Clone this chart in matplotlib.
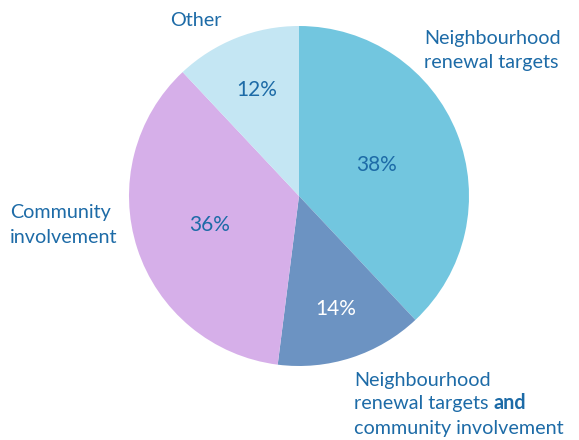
import matplotlib
matplotlib.use("Agg")
import matplotlib.pyplot as plt
import numpy as np

categories = ["Neighbourhood renewal targets", "Neighbourhood renewal targets and community involvement",
              "Community involvement", "Other"]
values = [38, 14, 36, 12]
pct_labels = ["38%", "14%", "36%", "12%"]
colors = ["#72C6DF", "#6C93C2", "#D6AFE9", "#C4E6F3"]
pct_colors = ["#1D6BA7", "#FFFFFF", "#1D6BA7", "#1D6BA7"]
pct_rad = [0.49, 0.70, 0.55, 0.67]
text_color = "#1D6BA7"

plt.rcParams['font.family'] = ['Lato', 'DejaVu Sans']

W, H = 579, 440
fig = plt.figure(figsize=(W / 100, H / 100), dpi=100)
ax = fig.add_axes([0, 0, 1, 1])

cx, cy, R = 299, H - 196, 170
wedges, _ = ax.pie(values, colors=colors, startangle=90, counterclock=False,
                   center=(cx, cy), radius=R, frame=True,
                   wedgeprops=dict(linewidth=0))
ax.set_xlim(0, W)
ax.set_ylim(0, H)
ax.set_aspect('equal')
ax.axis('off')

for w, lab, c, rf in zip(wedges, pct_labels, pct_colors, pct_rad):
    ang = np.deg2rad((w.theta1 + w.theta2) / 2)
    ax.text(cx + rf * R * np.cos(ang), cy + rf * R * np.sin(ang), lab,
            ha='center', va='center', fontsize=15, color=c)

fs = 14.2
ax.text(424, H - 38, "Neighbourhood", ha='left', va='center', fontsize=fs, color=text_color)
ax.text(424, H - 62, "renewal targets", ha='left', va='center', fontsize=fs, color=text_color)
ax.text(196, H - 20, "Other", ha='center', va='center', fontsize=fs, color=text_color)
ax.text(10, H - 212, "Community", ha='left', va='center', fontsize=fs, color=text_color)
ax.text(10, H - 237, "involvement", ha='left', va='center', fontsize=fs, color=text_color)
ax.text(354, H - 380, "Neighbourhood", ha='left', va='center', fontsize=fs, color=text_color)
t = ax.text(354, H - 409, "renewal targets ", ha='left', va='baseline', fontsize=fs, color=text_color)
fig.canvas.draw()
ext = t.get_window_extent()
x_end = ax.transData.inverted().transform((ext.x1, ext.y0))[0]
ax.text(x_end, H - 409, "and", ha='left', va='baseline',
        fontsize=fs, color=text_color, fontweight='bold')
ax.text(354, H - 428, "community involvement", ha='left', va='center', fontsize=fs, color=text_color)

fig.savefig("out.png", dpi=100)
